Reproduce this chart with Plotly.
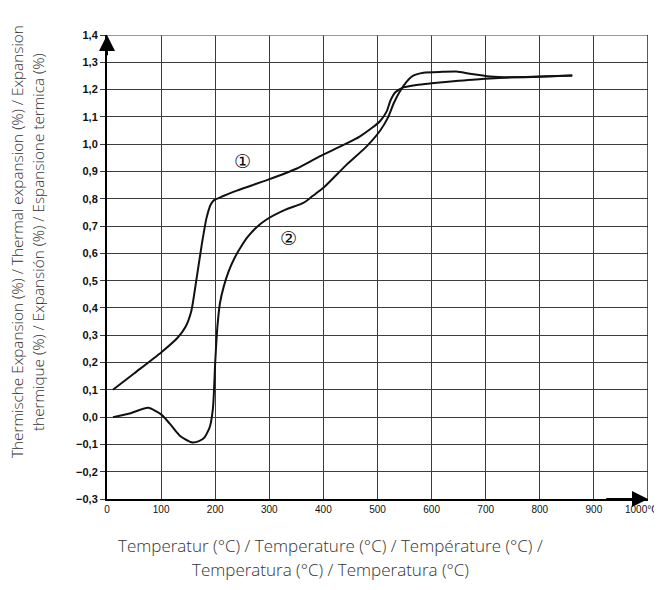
import plotly.graph_objects as go

# ---- data ----
temp_1 = [11, 50, 100, 130, 145, 156, 165, 175, 184, 192, 198, 215, 240, 298, 350, 393,
          440, 467, 490, 505, 517, 524, 533, 548, 572, 600, 650, 700, 750, 800, 860]
exp_1 = [0.10, 0.16, 0.237, 0.29, 0.33, 0.39, 0.50, 0.63, 0.73, 0.78, 0.795, 0.81, 0.83,
         0.87, 0.91, 0.955, 1.0, 1.028, 1.06, 1.085, 1.12, 1.16, 1.19, 1.208, 1.217,
         1.223, 1.232, 1.24, 1.245, 1.248, 1.252]

temp_2 = [11, 40, 76, 100, 116, 134, 156, 170, 180, 190, 196, 200, 204, 209, 216, 225,
          236, 248, 260, 275, 295, 330, 363, 380, 400, 443, 480, 505, 520, 530, 541, 554,
          566, 585, 620, 646, 671, 708, 750, 800, 860]
exp_2 = [0.0, 0.012, 0.034, 0.01, -0.024, -0.067, -0.092, -0.088, -0.075, -0.036, 0.036,
         0.2, 0.33, 0.42, 0.48, 0.535, 0.584, 0.625, 0.66, 0.693, 0.724, 0.76, 0.785, 0.81,
         0.84, 0.925, 0.992, 1.05, 1.1, 1.15, 1.192, 1.229, 1.251, 1.262, 1.265, 1.266,
         1.258, 1.248, 1.245, 1.247, 1.252]

x_ticks = [0, 100, 200, 300, 400, 500, 600, 700, 800, 900]
x_ticktext = ["0", "100", "200", "300", "400", "500", "600", "700", "800", "900"]
x_end_label = "1000°C"
y_ticks = [-0.3, -0.2, -0.1, 0.0, 0.1, 0.2, 0.3, 0.4, 0.5, 0.6, 0.7, 0.8, 0.9, 1.0,
           1.1, 1.2, 1.3, 1.4]
y_ticktext = ["−0,3", "−0,2", "−0,1", "0,0", "0,1", "0,2", "0,3", "0,4", "0,5", "0,6",
              "0,7", "0,8", "0,9", "1,0", "1,1", "1,2", "1,3", "1,4"]

curve_labels = ["①", "②"]
label_pos = [(250, 0.94), (335, 0.655)]

y_title = ["Thermische Expansion (%) / Thermal expansion (%) / Expansion",
           "thermique (%) / Expansión (%) / Espansione termica (%)"]
x_title = ["Temperatur (°C) / Temperature (°C) / Température (°C) /",
           "Temperatura (°C) / Temperatura (°C)"]

# page body has an 8px margin: compensate so the plot lands where the reference has it
OFF = 8
L, R, T, B = 107 - OFF, 14, 35 - OFF, 91
W, H = 662 - OFF, 590 - OFF
PW, PH = W - L - R, H - T - B


def px_to_paper(px, py):
    return (px - OFF - L) / PW, (H - B - (py - OFF)) / PH


fig = go.Figure()
for t, e in [(temp_1, exp_1), (temp_2, exp_2)]:
    fig.add_trace(go.Scatter(x=t, y=e, mode="lines",
                             line=dict(color="#111111", width=2, shape="spline", smoothing=0.6),
                             showlegend=False, hoverinfo="skip"))

grid = "#3c3c3c"
fig.update_xaxes(range=[0, 1000], tickvals=x_ticks, ticktext=x_ticktext,
                 showgrid=True, gridcolor=grid, gridwidth=1, zeroline=False,
                 showline=True, linecolor="#000000", linewidth=2, ticks="",
                 automargin=False,
                 tickfont=dict(family="Arial", size=10, color="#111111"))
fig.update_yaxes(range=[-0.3, 1.4], tickvals=y_ticks, ticktext=y_ticktext,
                 showgrid=True, gridcolor=grid, gridwidth=1, zeroline=False,
                 showline=True, linecolor="#000000", linewidth=2,
                 ticks="outside", ticklen=5, tickcolor=grid, automargin=False,
                 tickfont=dict(family="Arial", size=11, color="#111111", weight="bold"))

# end label of the x axis, kept inside the page
xp, yp = px_to_paper(660, 509)
fig.add_annotation(x=xp, y=yp, xref="paper", yref="paper", text=x_end_label,
                   showarrow=False, xanchor="right", yanchor="middle",
                   font=dict(family="Arial", size=10, color="#111111"))

# border lines at top and right
fig.add_shape(type="line", xref="x", yref="y", x0=0, x1=1000, y0=1.4, y1=1.4,
              line=dict(color="#777777", width=1.5))
fig.add_shape(type="line", xref="x", yref="y", x0=1000, x1=1000, y0=-0.3, y1=1.4,
              line=dict(color="#222222", width=1.5))

# axis arrows
fig.add_annotation(x=0, y=1.4, ax=0, ay=1.32, xref="x", yref="y", axref="x", ayref="y",
                   text="", showarrow=True, arrowhead=2, arrowsize=1.6, arrowwidth=2,
                   arrowcolor="#000000", standoff=0)
fig.add_annotation(x=1000, y=-0.3, ax=920, ay=-0.3, xref="x", yref="y", axref="x", ayref="y",
                   text="", showarrow=True, arrowhead=2, arrowsize=1.6, arrowwidth=2,
                   arrowcolor="#000000", standoff=0)

for lab, (lx, ly) in zip(curve_labels, label_pos):
    fig.add_annotation(x=lx, y=ly, xref="x", yref="y", text=lab, showarrow=False,
                       font=dict(family="DejaVu Sans, Noto Sans CJK JP", size=19, color="#111111"))

# axis titles
for txt, px in zip(y_title, [17, 38]):
    xp, yp = px_to_paper(px, 242)
    fig.add_annotation(x=xp, y=yp, xref="paper", yref="paper",
                       text=txt, showarrow=False, textangle=-90, xanchor="center",
                       yanchor="middle",
                       font=dict(family="Open Sans", size=15.3, color="#333333", weight=300))
for txt, py in zip(x_title, [545, 569]):
    xp, yp = px_to_paper(330, py)
    fig.add_annotation(x=xp, y=yp, xref="paper", yref="paper",
                       text=txt, showarrow=False, xanchor="center", yanchor="middle",
                       font=dict(family="Open Sans", size=17, color="#333333", weight=300))

fig.update_layout(width=W, height=H, margin=dict(l=L, r=R, t=T, b=B, autoexpand=False),
                  plot_bgcolor="white", paper_bgcolor="white")

fig.write_html("out.html")
